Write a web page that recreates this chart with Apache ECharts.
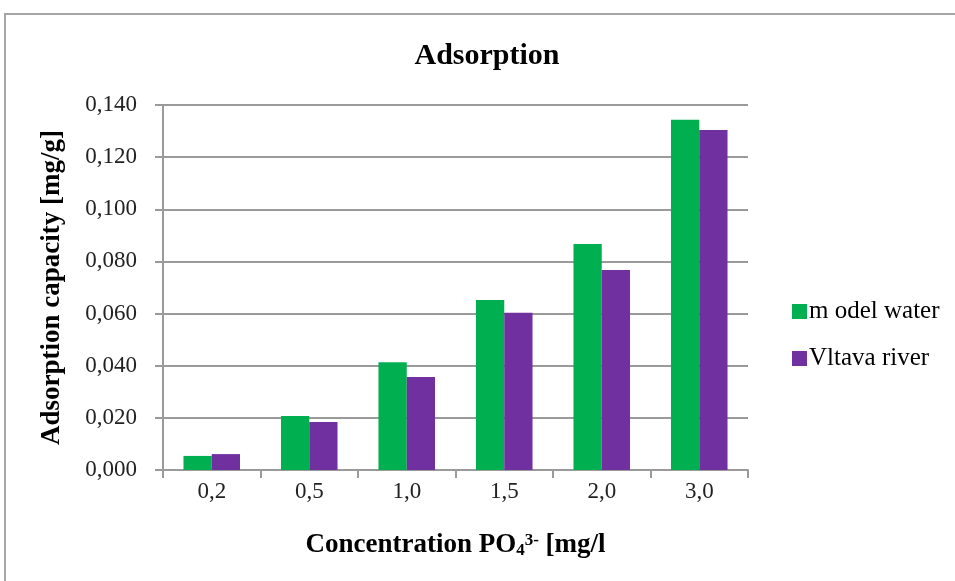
<!DOCTYPE html>
<html>
<head>
<meta charset="utf-8">
<script src="https://cdn.jsdelivr.net/npm/echarts@6/dist/echarts.min.js"></script>
<style>
  html, body { margin: 0; padding: 0; background: #fff; }
  #chart { width: 955px; height: 581px; }
</style>
</head>
<body>
<div id="chart"></div>
<script>
// data
const categories = ["0,2", "0,5", "1,0", "1,5", "2,0", "3,0"];
const modelWater = [0.0054, 0.0207, 0.0413, 0.0652, 0.0867, 0.1343];
const vltavaRiver = [0.0061, 0.0184, 0.0357, 0.0603, 0.0767, 0.1304];
const seriesNames = ["m odel water", "Vltava river"];

const serif = "'Liberation Serif', 'DejaVu Serif', serif";

const chart = echarts.init(document.getElementById("chart"));

const option = {
    backgroundColor: "#fff",
    animation: false,
    title: {
        text: "Adsorption",
        left: 482,
        top: 36,
        textAlign: "center",
        textStyle: { fontFamily: serif, fontSize: 30, fontWeight: "bold", color: "#000" },
    },
    // outer frame of the chart area
    graphic: [{
        type: "rect",
        shape: { x: 5, y: 14, width: 1000, height: 1000 },
        style: { fill: null, stroke: "#a6a6a6", lineWidth: 2 },
        silent: true,
    }],
    legend: {
        orient: "vertical",
        left: 787,
        top: 294,
        itemWidth: 15,
        itemHeight: 15,
        itemGap: 22,
        icon: "rect",
        textStyle: { fontFamily: serif, fontSize: 25, color: "#000", padding: [0, 0, 0, -3] },
        data: seriesNames,
    },
    grid: {
        left: 163,
        right: 955 - 748,
        top: 105,
        bottom: 581 - 470,
    },
    xAxis: {
        type: "category",
        data: categories,
        name: "{a|Concentration PO}{sub|4}{sup|3-}{a| [mg/l}",
        nameLocation: "middle",
        nameGap: 62,
        nameTextStyle: {
            rich: {
                a: { fontFamily: serif, fontSize: 27, fontWeight: "bold", color: "#000" },
                sub: { fontFamily: serif, fontSize: 17, fontWeight: "bold", color: "#000", verticalAlign: "bottom", padding: [10, 0, 0, 0] },
                sup: { fontFamily: serif, fontSize: 17, fontWeight: "bold", color: "#000", verticalAlign: "top", padding: [0, 0, 10, 0] },
            },
        },
        axisLine: { lineStyle: { color: "#9a9a9a", width: 2 } },
        axisTick: { show: true, length: 8, lineStyle: { color: "#9a9a9a", width: 2 } },
        axisLabel: { fontFamily: serif, fontSize: 23, color: "#222", margin: 10 },
    },
    yAxis: {
        type: "value",
        min: 0,
        max: 0.14,
        interval: 0.02,
        name: "Adsorption capacity [mg/g]",
        nameLocation: "middle",
        nameGap: 97,
        nameTextStyle: { fontFamily: serif, fontSize: 27, fontWeight: "bold", color: "#000" },
        axisLine: { show: true, lineStyle: { color: "#9a9a9a", width: 2 } },
        axisTick: { show: true, length: 8, lineStyle: { color: "#9a9a9a", width: 2 } },
        axisLabel: {
            fontFamily: serif,
            fontSize: 23,
            color: "#222",
            margin: 26,
            formatter: (v) => v.toFixed(3).replace(".", ","),
        },
        splitLine: { lineStyle: { color: "#9a9a9a", width: 2 } },
    },
    series: [
        {
            name: seriesNames[0],
            type: "bar",
            data: modelWater,
            barGap: "0%",
            barCategoryGap: "42%",
            itemStyle: { color: "#00b050" },
        },
        {
            name: seriesNames[1],
            type: "bar",
            data: vltavaRiver,
            barGap: "0%",
            barCategoryGap: "42%",
            itemStyle: { color: "#7030a0" },
        },
    ],
};

chart.setOption(option);
</script>
</body>
</html>
